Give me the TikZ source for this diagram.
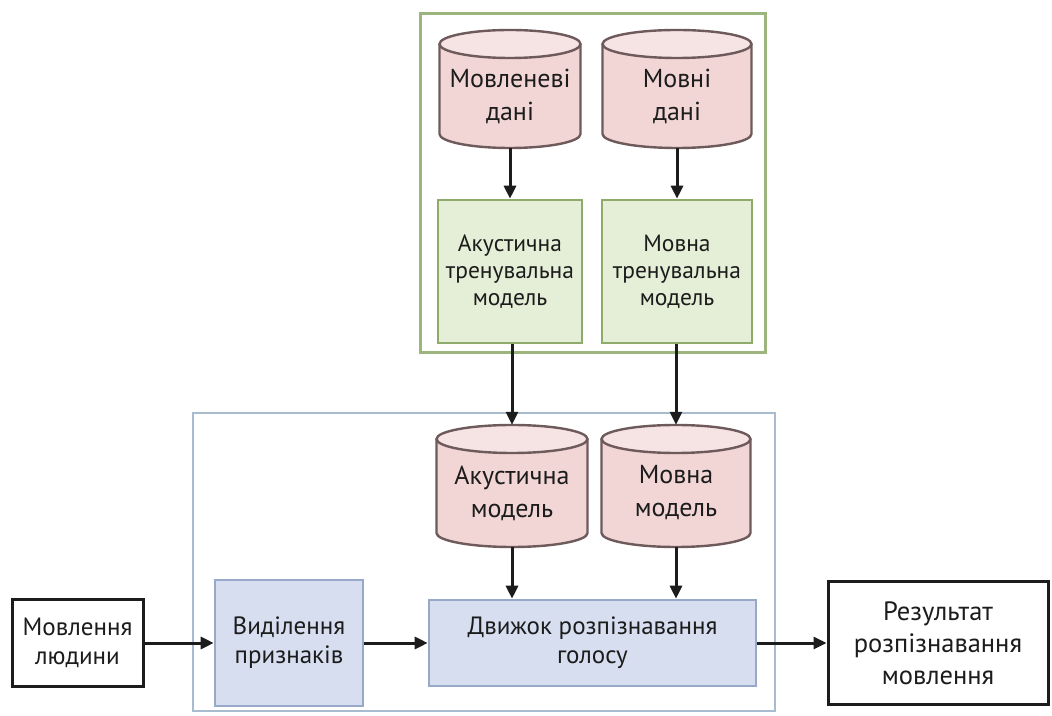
\documentclass[tikz,border=0pt]{standalone}
\usepackage{fontspec}
\setmainfont{PT Sans}
\usetikzlibrary{arrows.meta}
\definecolor{cylfill}{HTML}{F2D6D6}
\definecolor{cyltop}{HTML}{F6E4E4}
\definecolor{cyldraw}{HTML}{6E5A5A}
\definecolor{gfill}{HTML}{E5EED6}
\definecolor{gdraw}{HTML}{8FAB6B}
\definecolor{gout}{HTML}{9CB57C}
\definecolor{bfill}{HTML}{D6DEF0}
\definecolor{bdraw}{HTML}{98A8C8}
\definecolor{bout}{HTML}{A9BBCE}
\definecolor{ink}{HTML}{1C1C1C}
\newcommand\drawcyl[6]{%
  \fill[cylfill] (#2-#5,#3-14) -- (#2-#5,#4+14) arc[start angle=180,end angle=360,x radius=#5,y radius=14] -- (#2+#5,#3-14) -- cycle;
  \fill[cyltop] (#2,#3-14) ellipse[x radius=#5,y radius=14];
  \draw[cyldraw,line width=2.4pt] (#2-#5,#3-14) -- (#2-#5,#4+14) arc[start angle=180,end angle=360,x radius=#5,y radius=14] -- (#2+#5,#3-14);
  \draw[cyldraw,line width=2.4pt] (#2,#3-14) ellipse[x radius=#5,y radius=14];
  \node[cylnode, minimum width=2*#5, minimum height=#3-#4] (#1) at (#2,{(#3+#4)/2}) {};
  \node[cyltext] (#1t) at (#2,{(#3+#4)/2-7}) {#6};
}
\begin{document}
\begin{tikzpicture}[x=1pt,y=1pt,
  box/.style={rectangle, inner sep=0pt, align=center, text=ink},
  gbox/.style={box, draw=gdraw, fill=gfill, line width=2.6pt, font=\fontsize{23.5}{27}\selectfont},
  bbox/.style={box, draw=bdraw, fill=bfill, line width=2.6pt, font=\fontsize{25}{29}\selectfont},
  wbox/.style={box, draw=ink, fill=white, line width=3pt, font=\fontsize{25}{29}\selectfont},
  gframe/.style={rectangle, inner sep=0pt, draw=gout, line width=3pt},
  bframe/.style={rectangle, inner sep=0pt, draw=bout, line width=2.8pt},
  cylnode/.style={rectangle, inner sep=0pt},
  cyltext/.style={align=center, text=ink, inner sep=0pt, font=\fontsize{26}{33}\selectfont},
  arr/.style={draw=ink, line width=3pt, -{Triangle[length=13pt,width=12pt]}}
]
\useasboundingbox (0,0) rectangle (1052,715);
\fill[white] (0,0) rectangle (1052,715);
% frames
\node[gframe, minimum width=345, minimum height=339] (gf) at (592.5,531.5) {};
\node[bframe, minimum width=582, minimum height=298] (bf) at (484,153) {};
% cylinders
\drawcyl{c1}{510}{685}{567}{70.5}{Мовленеві\\дані}
\drawcyl{c2}{677}{685}{567}{74.5}{Мовні\\дані}
\drawcyl{c3}{512}{290}{168}{75.5}{Акустична\\модель}
\drawcyl{c4}{676}{290}{168}{74.5}{Мовна\\модель}
% green boxes
\node[gbox, minimum width=144, minimum height=143] (gb1) at (510,443.5) {Акустична\\тренувальна\\модель};
\node[gbox, minimum width=150, minimum height=143] (gb2) at (677,443.5) {Мовна\\тренувальна\\модель};
% bottom row
\node[wbox, minimum width=131, minimum height=87] (ml) at (77.5,72) {Мовлення\\людини};
\node[bbox, minimum width=148, minimum height=126] (vy) at (289,72) {Виділення\\признаків};
\node[bbox, minimum width=327, minimum height=86] (dv) at (592.5,72) {Движок розпізнавання\\голосу};
\node[wbox, minimum width=220, minimum height=122, font=\fontsize{26.5}{32}\selectfont] (rz) at (938,72) {Результат\\розпізнавання\\мовлення};
% arrows
\draw[arr] (c1.south -| gb1.north) -- (gb1.north);
\draw[arr] (c2.south -| gb2.north) -- (gb2.north);
\draw[arr] (gb1.south -| c3.north) -- (c3.north);
\draw[arr] (gb2.south -| c4.north) -- (c4.north);
\draw[arr] (c3.south) -- (c3.south |- dv.north);
\draw[arr] (c4.south) -- (c4.south |- dv.north);
\draw[arr] (ml.east) -- (vy.west);
\draw[arr] (vy.east) -- (dv.west);
\draw[arr] (dv.east) -- (rz.west);
\end{tikzpicture}
\end{document}
